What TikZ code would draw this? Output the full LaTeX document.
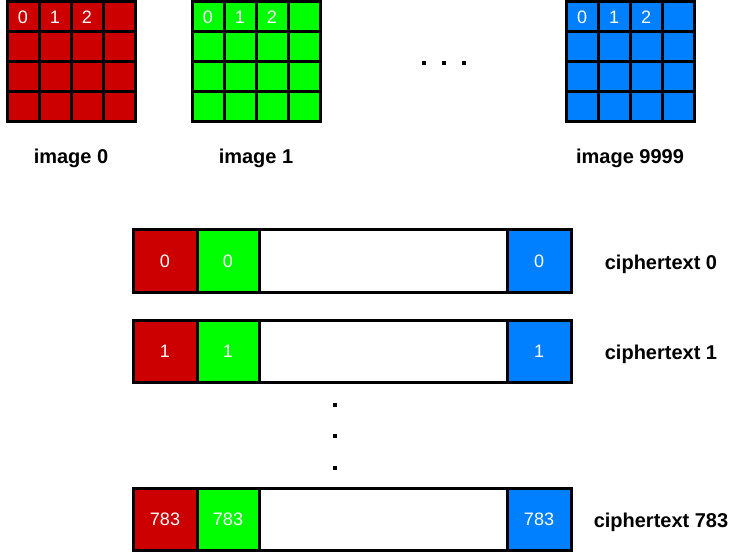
\documentclass[tikz,border=0pt]{standalone}
\usepackage{fontspec}
\setmainfont{Liberation Sans}
\usepackage{tikz}
\definecolor{imgred}{RGB}{204,0,0}
\definecolor{imggreen}{RGB}{0,255,0}
\definecolor{imgblue}{RGB}{0,128,255}

\begin{document}
\begin{tikzpicture}[x=1pt,y=-1pt,
  cell/.style={draw=black,line width=3pt,minimum width=32pt,minimum height=30pt,inner sep=0pt,outer sep=0pt,text=white,font=\fontsize{18}{18}\selectfont},
  slot/.style={draw=black,line width=3pt,minimum height=62pt,inner sep=0pt,outer sep=0pt,text=white,font=\fontsize{18}{18}\selectfont},
  lbl/.style={font=\bfseries\fontsize{20}{22}\selectfont}]
\useasboundingbox (0,0) rectangle (730,553);
% the images
\foreach \name/\col/\x/\lab in {img0/imgred/7/0, img1/imggreen/192/1, imgN/imgblue/566/9999} {
  \foreach \r in {0,...,3}
    \foreach \c in {0,...,3} {
      \ifnum\r=0 \ifnum\c<3 \def\txt{\c}\else\def\txt{}\fi \else\def\txt{}\fi
      \node[cell,fill=\col] (\name-\r-\c) at (\x+16+32*\c,17+30*\r) {\txt};
    }
  \node[lbl] (\name-lab) at (\x+64,158) {image \lab};
}
\foreach \x in {424,444,464}
  \fill (\x-2,61) rectangle (\x+2,65);
% the ciphertexts
\foreach \name/\y/\lab in {ct0/261/0, ct1/351/1, ctN/519/783} {
  \node[slot,minimum width=438pt] (\name) at (352,\y) {};
  \node[slot,minimum width=64pt,fill=imgred] (\name-r) at (165,\y) {\lab};
  \node[slot,minimum width=62pt,fill=imggreen] (\name-g) at (228,\y) {\lab};
  \node[slot,minimum width=64pt,fill=imgblue] (\name-b) at (539,\y) {\lab};
  \node[lbl] (\name-lab) at (661,\y+3) {ciphertext \lab};
}
\foreach \y in {405,436,468}
  \fill (333,\y-2) rectangle (337,\y+2);
\end{tikzpicture}
\end{document}
